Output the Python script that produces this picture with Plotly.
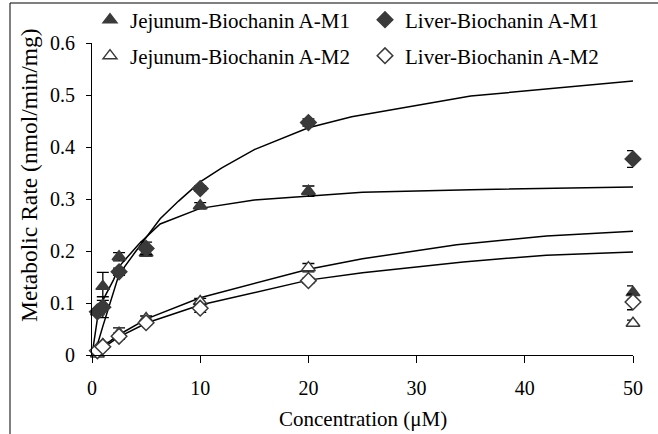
import plotly.graph_objects as go

# ---- data ----
conc = [0.5, 1, 2.5, 5, 10, 20, 50]

jej_m1 = [0.083, 0.132, 0.189, 0.196, 0.287, 0.315, 0.120]
jej_m1_err = [0.005, 0.027, 0.008, 0.006, 0.006, 0.010, 0.013]
liv_m1 = [0.083, 0.092, 0.160, 0.205, 0.320, 0.447, 0.377]
liv_m1_err = [0.005, 0.020, 0.007, 0.012, 0.005, 0.007, 0.016]
jej_m2 = [0.002, 0.020, 0.042, 0.070, 0.103, 0.168, 0.061]
jej_m2_err = [0.003, 0.004, 0.010, 0.005, 0.006, 0.008, 0.006]
liv_m2 = [0.008, 0.016, 0.036, 0.062, 0.090, 0.143, 0.102]
liv_m2_err = [0.003, 0.004, 0.006, 0.004, 0.008, 0.005, 0.015]

# fitted curves
fit_liv_m1_x = [0, 0.5, 1, 2.5, 4, 5, 6.3, 8, 10, 12, 15, 20, 24, 35, 50]
fit_liv_m1_y = [0, 0.02, 0.055, 0.155, 0.198, 0.225, 0.262, 0.296, 0.333, 0.36, 0.395, 0.437, 0.458, 0.498, 0.527]
fit_jej_m1_x = [0, 0.5, 1, 2, 2.5, 4.4, 6.3, 10, 15, 20, 25, 35, 50]
fit_jej_m1_y = [0, 0.07, 0.105, 0.145, 0.17, 0.215, 0.252, 0.282, 0.298, 0.306, 0.313, 0.318, 0.323]
fit_jej_m2_x = [0, 1.2, 2.4, 5.1, 10, 20, 25, 33.7, 42, 50]
fit_jej_m2_y = [0, 0.019, 0.038, 0.07, 0.11, 0.165, 0.185, 0.212, 0.229, 0.238]
fit_liv_m2_x = [0, 1.2, 2.4, 5.1, 10, 20, 25, 34.3, 42, 50]
fit_liv_m2_y = [0, 0.016, 0.034, 0.062, 0.096, 0.144, 0.158, 0.179, 0.192, 0.198]

x_ticks = [0, 10, 20, 30, 40, 50]
y_ticks = [0, 0.1, 0.2, 0.3, 0.4, 0.5, 0.6]
y_tick_text = ["0", "0.1", "0.2", "0.3", "0.4", "0.5", "0.6"]

names = ["Jejunum-Biochanin A-M1", "Liver-Biochanin A-M1",
         "Jejunum-Biochanin A-M2", "Liver-Biochanin A-M2"]

FONT = "Liberation Serif, Times New Roman, serif"
DARK = "#3a3a3a"

# plot-area geometry in pixels (used only for layout placement)
L, R, T, B = 92, 25, 43, 79
W = 658 - L - R
H = 434 - T - B


def px_x(px):
    return (px - L) / W


def px_y(py):
    return (434 - B - py) / H


fig = go.Figure()

# curves
for fx, fy in [(fit_liv_m1_x, fit_liv_m1_y), (fit_jej_m1_x, fit_jej_m1_y),
               (fit_jej_m2_x, fit_jej_m2_y), (fit_liv_m2_x, fit_liv_m2_y)]:
    fig.add_trace(go.Scatter(x=fx, y=fy, mode="lines", showlegend=False,
                             line=dict(color="black", width=1.5),
                             hoverinfo="skip", cliponaxis=False))

specs = [
    (jej_m1, jej_m1_err, names[0], "triangle-up", DARK, DARK, "legend"),
    (liv_m1, liv_m1_err, names[1], "diamond", DARK, DARK, "legend2"),
    (jej_m2, jej_m2_err, names[2], "triangle-up", "white", DARK, "legend3"),
    (liv_m2, liv_m2_err, names[3], "diamond", "white", DARK, "legend4"),
]
for ys, es, nm, sym, fill, edge, lg in specs:
    fig.add_trace(go.Scatter(
        x=conc, y=ys, mode="markers", name=nm, legend=lg,
        marker=dict(symbol=sym, size=12, color=fill,
                    line=dict(color=edge, width=1.5)),
        error_y=dict(type="data", array=es, visible=True,
                     color="black", thickness=1.3, width=6),
        cliponaxis=False))

leg_common = dict(orientation="h", xanchor="left", yanchor="middle",
                  font=dict(family=FONT, size=21), bgcolor="rgba(0,0,0,0)",
                  borderwidth=0, itemclick=False)

fig.update_layout(
    width=658, height=434,
    margin=dict(l=L, r=R, t=T, b=B, autoexpand=False),
    paper_bgcolor="white", plot_bgcolor="white",
    font=dict(family=FONT, size=20, color="black"),
    xaxis=dict(range=[0, 50], tickvals=x_ticks, showline=True,
               linecolor="black", linewidth=1, ticks="outside",
               ticklen=7, tickcolor="black", showgrid=False, zeroline=False,
               ticklabelstandoff=8),
    yaxis=dict(range=[0, 0.6], tickvals=y_ticks, ticktext=y_tick_text,
               showline=True, linecolor="black", linewidth=1,
               ticks="outside", ticklen=5, tickcolor="black",
               showgrid=False, zeroline=False, ticklabelstandoff=7),
    legend=dict(x=px_x(90), y=px_y(20), **leg_common),
    legend2=dict(x=px_x(365), y=px_y(20), **leg_common),
    legend3=dict(x=px_x(90), y=px_y(56), **leg_common),
    legend4=dict(x=px_x(365), y=px_y(56), **leg_common),
    showlegend=True,
    hovermode=False,
)

# axis titles as annotations for precise placement
fig.add_annotation(text="Concentration (\u03bcM)", xref="paper", yref="paper",
                   x=0.5, y=px_y(419), showarrow=False,
                   xanchor="center", yanchor="middle",
                   font=dict(family=FONT, size=21))
fig.add_annotation(text="Metabolic Rate (nmol/min/mg)", xref="paper", yref="paper",
                   x=px_x(29), y=px_y(175), showarrow=False,
                   textangle=-90, xanchor="center", yanchor="middle",
                   font=dict(family=FONT, size=23.5))

# outer frame (chart border, cropped at right/bottom)
fig.add_shape(type="rect", xref="paper", yref="paper",
              x0=px_x(10), x1=px_x(662), y0=px_y(440), y1=px_y(3),
              line=dict(color="black", width=1), layer="below")

fig.write_html("out.html",
               config={"displayModeBar": False, "staticPlot": False},
               post_script="document.body.style.margin='0px';")
